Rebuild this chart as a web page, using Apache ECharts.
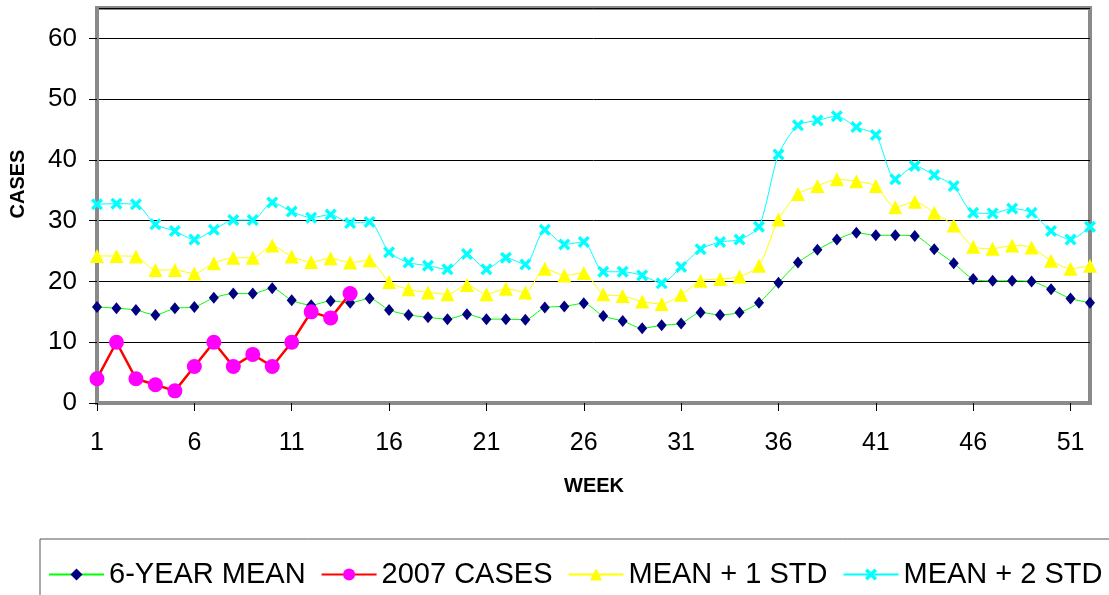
<!DOCTYPE html>
<html>
<head>
<meta charset="utf-8">
<title>Weekly cases</title>
<script src="https://cdn.jsdelivr.net/npm/echarts@6/dist/echarts.min.js"></script>
<style>
  html, body { margin: 0; padding: 0; background: #fff; }
  #chart { width: 1109px; height: 595px; }
</style>
</head>
<body>
<div id="chart"></div>
<script>
// weeks 1..52
var weeks = [];
for (var w = 1; w <= 52; w++) weeks.push(String(w));

var sixYearMean = [
  15.8, 15.6, 15.3, 14.5, 15.6, 15.8, 17.3, 18.0, 18.0, 18.9,
  16.9, 16.1, 16.8, 16.5, 17.2, 15.3, 14.5, 14.1, 13.8, 14.6,
  13.8, 13.8, 13.7, 15.7, 15.9, 16.4, 14.3, 13.5, 12.3, 12.8,
  13.1, 14.9, 14.5, 14.9, 16.5, 19.8, 23.1, 25.2, 26.9, 28.0,
  27.6, 27.6, 27.5, 25.3, 23.0, 20.4, 20.1, 20.1, 20.0, 18.7,
  17.2, 16.5
];
var cases2007 = [4, 10, 4, 3, 2, 6, 10, 6, 8, 6, 10, 15, 14, 18];
var meanPlus1 = [
  24.2, 24.2, 24.1, 21.9, 21.9, 21.3, 23.0, 23.9, 23.9, 25.9,
  24.1, 23.2, 23.8, 23.1, 23.5, 19.9, 18.7, 18.2, 17.9, 19.4,
  17.9, 18.8, 18.2, 22.1, 21.0, 21.4, 17.9, 17.6, 16.7, 16.3,
  17.8, 20.1, 20.4, 20.8, 22.6, 30.2, 34.4, 35.7, 36.8, 36.5,
  35.7, 32.2, 33.1, 31.3, 29.2, 25.7, 25.4, 25.9, 25.6, 23.4,
  22.1, 22.6
];
var meanPlus2 = [
  32.7, 32.8, 32.7, 29.4, 28.3, 26.9, 28.5, 30.1, 30.1, 33.0,
  31.5, 30.5, 31.0, 29.6, 29.8, 24.8, 23.1, 22.6, 22.0, 24.5,
  22.0, 23.9, 22.8, 28.5, 26.1, 26.5, 21.6, 21.6, 21.0, 19.7,
  22.4, 25.3, 26.5, 26.9, 29.0, 40.9, 45.7, 46.5, 47.2, 45.4,
  44.1, 36.8, 39.0, 37.5, 35.7, 31.3, 31.2, 32.0, 31.3, 28.3,
  26.9, 29.0
];

var font = "'Liberation Sans', Arial, sans-serif";
var xMark = "path://M0,2L2,0L5,3L8,0L10,2L7,5L10,8L8,10L5,7L2,10L0,8L3,5Z";

var chart = echarts.init(document.getElementById("chart"));
chart.setOption({
  animation: false,
  backgroundColor: "#fff",
  textStyle: { fontFamily: font, color: "#000" },
  grid: {
    left: 97,
    right: 19,
    top: 8,
    bottom: 192,
    show: true,
    borderColor: "#8a8a8a",
    borderWidth: 4
  },
  graphic: [
    {
      type: "text",
      x: 18,
      y: 184,
      rotation: Math.PI / 2,
      style: {
        text: "CASES",
        font: "bold 20px " + font,
        fill: "#000",
        align: "center",
        verticalAlign: "middle"
      }
    },
    {
      type: "text",
      x: 594,
      y: 486,
      style: {
        text: "WEEK",
        font: "bold 20px " + font,
        fill: "#000",
        align: "center",
        verticalAlign: "middle"
      }
    }
  ],
  legend: {
    left: 40,
    top: 539,
    width: 1400,
    padding: [21, 60, 40, 8],
    itemWidth: 55,
    itemHeight: 15,
    itemGap: 15,
    borderColor: "#555",
    borderWidth: 1,
    textStyle: { fontSize: 29, color: "#000", fontFamily: font },
    data: ["6-YEAR MEAN", "2007 CASES", "MEAN + 1 STD", "MEAN + 2 STD"]
  },
  xAxis: {
    type: "category",
    data: weeks,
    boundaryGap: false,
    axisLine: { show: true, lineStyle: { color: "#8a8a8a", width: 4 } },
    axisTick: {
      show: true,
      interval: 4,
      length: 8,
      lineStyle: { color: "#000", width: 1 }
    },
    axisLabel: {
      interval: 4,
      margin: 28,
      fontSize: 25,
      color: "#000",
      fontFamily: font
    },
    splitLine: { show: false }
  },
  yAxis: {
    type: "value",
    min: 0,
    max: 65,
    interval: 10,
    axisLine: { show: true, lineStyle: { color: "#8a8a8a", width: 4 } },
    axisTick: { show: true, length: 8, lineStyle: { color: "#000", width: 1 } },
    axisLabel: {
      margin: 20,
      fontSize: 26,
      color: "#000",
      fontFamily: font,
      showMaxLabel: false
    },
    splitLine: { show: true, lineStyle: { color: "#000", width: 1 } }
  },
  series: [
    {
      name: "6-YEAR MEAN",
      type: "line",
      data: sixYearMean,
      smooth: 0.25,
      showAllSymbol: true,
      symbol: "diamond",
      symbolSize: [10, 12],
      lineStyle: { color: "#00ff00", width: 1 },
      itemStyle: { color: "#000080" }
    },
    {
      name: "2007 CASES",
      type: "line",
      data: cases2007,
      showAllSymbol: true,
      symbol: "circle",
      symbolSize: 15,
      lineStyle: { color: "#ff0000", width: 2.5 },
      itemStyle: { color: "#ff00ff" }
    },
    {
      name: "MEAN + 1 STD",
      type: "line",
      data: meanPlus1,
      smooth: 0.25,
      showAllSymbol: true,
      symbol: "triangle",
      symbolSize: 14,
      lineStyle: { color: "#ffff00", width: 1 },
      itemStyle: { color: "#ffff00" }
    },
    {
      name: "MEAN + 2 STD",
      type: "line",
      data: meanPlus2,
      smooth: 0.25,
      showAllSymbol: true,
      symbol: xMark,
      symbolSize: 12,
      lineStyle: { color: "#00ffff", width: 1 },
      itemStyle: { color: "#00ffff" }
    }
  ]
});
</script>
</body>
</html>
